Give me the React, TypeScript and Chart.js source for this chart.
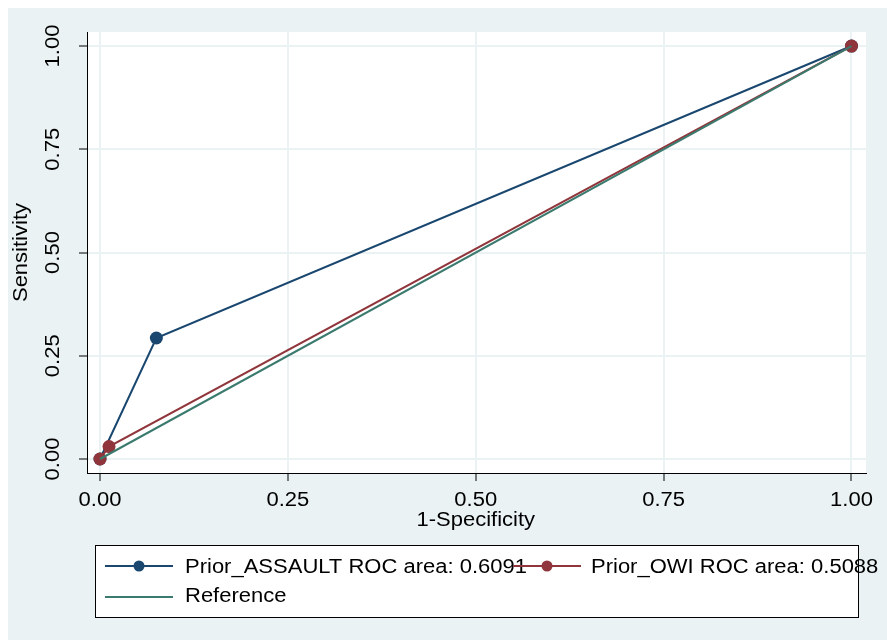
import React, { useEffect, useRef } from "react";
import { Chart, registerables } from "chart.js";

Chart.register(...registerables);

const assaultFpr = [0, 0.075, 1];
const assaultTpr = [0, 0.293, 1];
const owiFpr = [0, 0.012, 1];
const owiTpr = [0, 0.03, 1];
const refX = [0, 1];
const refY = [0, 1];
const tickValues = [0, 0.25, 0.5, 0.75, 1];
const tickLabels = ["0.00", "0.25", "0.50", "0.75", "1.00"];
const legendLabels = ["Prior_ASSAULT ROC area: 0.6091", "Prior_OWI ROC area: 0.5088", "Reference"];

const BLUE = "#1a476f";
const RED = "#90353b";
const TEAL = "#3b7a6e";
const BG = "#eaf2f3";
const FONT = "20px 'Liberation Sans', Arial, sans-serif";
const STRETCH = 1.1;

const pts = (xs: number[], ys: number[]) => xs.map((x, i) => ({ x, y: ys[i] }));

export default function App() {
  const ref = useRef<HTMLCanvasElement | null>(null);
  useEffect(() => {
    const canvas = ref.current!;
    const decor = {
      id: "decor",
      beforeDraw(chart: any) {
        const { ctx, chartArea: a } = chart;
        ctx.save();
        ctx.fillStyle = BG;
        ctx.fillRect(0, 0, chart.width, chart.height);
        ctx.fillStyle = "#ffffff";
        ctx.fillRect(a.left, a.top, a.right - a.left, a.bottom - a.top);
        ctx.restore();
      },
      afterDraw(chart: any) {
        const { ctx } = chart;
        const xs = chart.scales.x;
        const ys = chart.scales.y;
        const text = (s: string, x: number, y: number, align: string, rot = 0) => {
          ctx.save();
          ctx.translate(x, y);
          if (rot) ctx.rotate(rot);
          ctx.scale(STRETCH, 1);
          ctx.textAlign = align;
          ctx.textBaseline = "middle";
          ctx.font = FONT;
          ctx.fillStyle = "#000";
          ctx.fillText(s, 0, 0);
          ctx.restore();
        };
        ctx.save();
        tickValues.forEach((v, i) => {
          text(tickLabels[i], xs.getPixelForValue(v), 492, "center");
        });
        text("1-Specificity", (xs.getPixelForValue(0) + xs.getPixelForValue(1)) / 2, 512, "center");
        tickValues.forEach((v, i) => {
          text(tickLabels[i], 45, ys.getPixelForValue(v), "center", -Math.PI / 2);
        });
        text("Sensitivity", 13, (ys.getPixelForValue(0) + ys.getPixelForValue(1)) / 2, "center", -Math.PI / 2);

        // legend
        ctx.fillStyle = "#ffffff";
        ctx.fillRect(87, 537, 763, 72);
        ctx.strokeStyle = "#000";
        ctx.lineWidth = 1;
        ctx.strokeRect(87.5, 537.5, 763, 72);
        const sample = (x0: number, y: number, color: string, marker: boolean) => {
          ctx.strokeStyle = color;
          ctx.lineWidth = 2;
          ctx.beginPath();
          ctx.moveTo(x0, y);
          ctx.lineTo(x0 + 68, y);
          ctx.stroke();
          if (marker) {
            ctx.fillStyle = color;
            ctx.beginPath();
            ctx.arc(x0 + 34, y, 5.5, 0, Math.PI * 2);
            ctx.fill();
          }
        };
        sample(97, 558, BLUE, true);
        text(legendLabels[0], 177, 559, "left");
        sample(505, 558, RED, true);
        text(legendLabels[1], 583, 559, "left");
        sample(97, 589, TEAL, false);
        text(legendLabels[2], 177, 588, "left");
        ctx.restore();
      },
    };
    const chart = new Chart(canvas, {
      type: "line",
      data: {
        datasets: [
          {
            label: legendLabels[2],
            data: pts(refX, refY),
            borderColor: TEAL,
            borderWidth: 2,
            pointRadius: 0,
            order: 0,
          },
          {
            label: legendLabels[1],
            data: pts(owiFpr, owiTpr),
            borderColor: RED,
            backgroundColor: RED,
            borderWidth: 2,
            pointRadius: 6.5,
            pointBorderWidth: 0,
            order: 1,
          },
          {
            label: legendLabels[0],
            data: pts(assaultFpr, assaultTpr),
            borderColor: BLUE,
            backgroundColor: BLUE,
            borderWidth: 2,
            pointRadius: 6.5,
            pointBorderWidth: 0,
            order: 2,
          },
        ],
      },
      options: {
        animation: false,
        responsive: false,
        layout: { padding: { top: 24, right: 21, left: 0, bottom: 0 } },
        plugins: { legend: { display: false }, tooltip: { enabled: false } },
        scales: {
          x: {
            type: "linear",
            min: -0.0173,
            max: 1.0193,
            afterBuildTicks: (s: any) => {
              s.ticks = tickValues.map((v) => ({ value: v }));
            },
            afterFit: (s: any) => {
              s.height = 167;
            },
            ticks: { display: false },
            grid: { color: BG, lineWidth: 2, tickColor: "#000", tickLength: 8, tickWidth: 1, drawTicks: true },
            border: { color: "#000", width: 1 },
          },
          y: {
            type: "linear",
            min: -0.0339,
            max: 1.034,
            afterBuildTicks: (s: any) => {
              s.ticks = tickValues.map((v) => ({ value: v }));
            },
            afterFit: (s: any) => {
              s.width = 79;
            },
            ticks: { display: false },
            grid: { color: BG, lineWidth: 2, tickColor: "#000", tickLength: 8, tickWidth: 1, drawTicks: true },
            border: { color: "#000", width: 1 },
          },
        },
      },
      plugins: [decor],
    } as any);
    return () => chart.destroy();
  }, []);
  return (
    <div style={{ position: "fixed", left: 8, top: 8, width: 879, height: 632 }}>
      <canvas ref={ref} width={879} height={632} style={{ display: "block" }} />
    </div>
  );
}
